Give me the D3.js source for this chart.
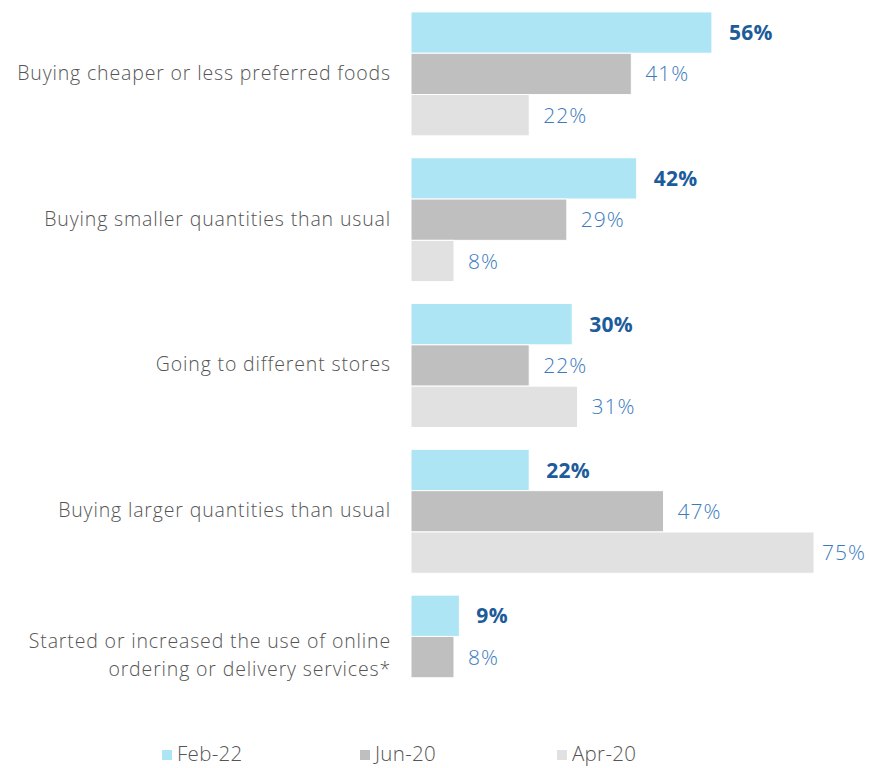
<!DOCTYPE html>
<html>
<head>
<meta charset="utf-8">
<script src="https://cdn.jsdelivr.net/npm/d3@7"></script>
<style>
  body { margin: 0; background: #fff; }
  text { font-family: "Open Sans", "Noto Sans", sans-serif; }
</style>
</head>
<body>
<div id="chart"></div>
<script>
var width = 869;
var height = 768;

var categories = [
  ["Buying cheaper or less preferred foods"],
  ["Buying smaller quantities than usual"],
  ["Going to different stores"],
  ["Buying larger quantities than usual"],
  ["Started or increased the use of online", "ordering or delivery services*"]
];
var seriesNames = ["Feb-22", "Jun-20", "Apr-20"];
var feb22 = [56, 42, 30, 22, 9];
var jun20 = [41, 29, 22, 47, 8];
var apr20 = [22, 8, 31, 75, null];
var seriesValues = [feb22, jun20, apr20];

var colors = ["#ade5f5", "#bfbfbf", "#e1e1e1"];

var svg = d3.select("#chart")
  .append("svg")
  .attr("width", width)
  .attr("height", height)
  .style("display", "block");

var x = d3.scaleLinear()
  .domain([0, 75])
  .range([411, 814]);

var y = d3.scaleBand()
  .domain(d3.range(categories.length))
  .range([1, 730])
  .paddingInner(0.15)
  .paddingOuter(0.075);

var y1 = d3.scaleBand()
  .domain(seriesNames)
  .range([0, y.bandwidth()]);

var rows = [];
categories.forEach(function(c, i) {
  seriesNames.forEach(function(s, j) {
    var v = seriesValues[j][i];
    if (v != null) rows.push({ cat: i, series: s, idx: j, value: v });
  });
});

var group = svg.selectAll(".group")
  .data(categories)
  .enter()
  .append("g")
  .attr("class", "group")
  .attr("transform", (d, i) => `translate(0,${y(i)})`);

// bars
svg.selectAll(".bar")
  .data(rows)
  .enter()
  .append("rect")
  .attr("class", "bar")
  .attr("x", x(0))
  .attr("y", d => y(d.cat) + y1(d.series))
  .attr("width", d => x(d.value) - x(0))
  .attr("height", y1.bandwidth())
  .attr("fill", d => colors[d.idx])
  .attr("stroke", "#fff")
  .attr("stroke-width", 1);

// value labels
svg.selectAll(".val")
  .data(rows)
  .enter()
  .append("text")
  .attr("class", "val")
  .attr("x", d => x(d.value) + (d.idx === 0 ? 17 : 14))
  .attr("y", d => y(d.cat) + y1(d.series) + y1.bandwidth() / 2)
  .attr("dy", "0.36em")
  .attr("font-size", 21)
  .attr("letter-spacing", d => d.idx === 0 ? 0.3 : 1)
  .attr("font-weight", d => d.idx === 0 ? "bold" : 300)
  .attr("fill", d => d.idx === 0 ? "#1d5c9a" : "#3b7bbd")
  .text(d => d.value + "%")
  .each(function() {
    // keep labels inside the right edge
    var w = this.getComputedTextLength();
    var cx = +this.getAttribute("x");
    if (cx + w > width - 3) this.setAttribute("x", width - 3 - w);
  });

// category labels
group.append("text")
  .attr("x", 391)
  .attr("y", y.bandwidth() / 2)
  .attr("text-anchor", "end")
  .attr("font-size", 19.5)
  .attr("letter-spacing", 0.85)
  .attr("font-weight", 300)
  .attr("fill", "#555")
  .selectAll("tspan")
  .data(d => d)
  .enter()
  .append("tspan")
  .attr("x", 391)
  .attr("dy", (d, i, n) => i === 0 ? (0.3 - (n.length - 1) * 0.75) + "em" : "1.4em")
  .text(d => d);

// legend
var legendX = [162, 360, 557];
var legend = svg.selectAll(".legend")
  .data(seriesNames)
  .enter()
  .append("g")
  .attr("class", "legend")
  .attr("transform", (d, i) => `translate(${legendX[i]},754)`);

legend.append("rect")
  .attr("x", 0)
  .attr("y", -4)
  .attr("width", 10)
  .attr("height", 10)
  .attr("fill", (d, i) => colors[i]);

legend.append("text")
  .attr("x", 15)
  .attr("y", 0)
  .attr("dy", "0.36em")
  .attr("font-size", 20.5)
  .attr("letter-spacing", 0.3)
  .attr("font-weight", 300)
  .attr("fill", "#555")
  .text(d => d);
</script>
</body>
</html>
